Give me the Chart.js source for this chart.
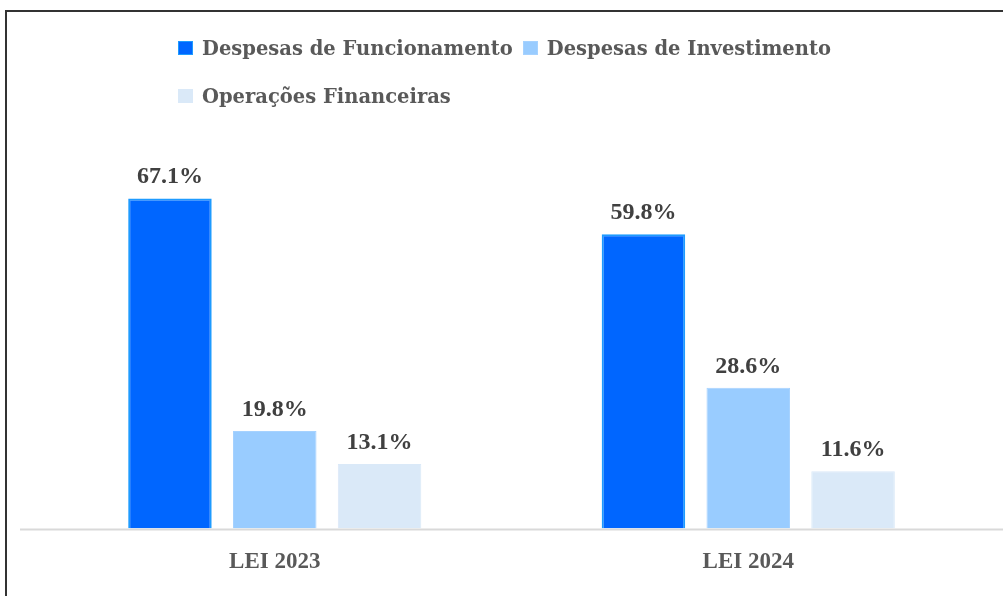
<!DOCTYPE html>
<html>
<head>
<meta charset="utf-8">
<script src="https://cdn.jsdelivr.net/npm/chart.js@4/dist/chart.umd.min.js"></script>
<style>
  html, body { margin: 0; padding: 0; background: #fff; }
  body { width: 1003px; height: 596px; position: relative; overflow: hidden; }
  #frame { position: absolute; left: 5px; top: 10px; width: 1100px; height: 700px;
           border-left: 2px solid #333; border-top: 2px solid #333; box-sizing: border-box; }
  #wrap { position: absolute; left: 0; top: 0; width: 1003px; height: 596px; }
  #legend { position: absolute; left: 178px; top: 35px; width: 680px;
            display: flex; flex-wrap: wrap; row-gap: 22px; column-gap: 10px;
            font-family: "DejaVu Serif", serif; font-weight: bold; font-size: 19.5px; color: #595959; }
  .item { display: flex; align-items: center; height: 26px; white-space: nowrap; }
  .sw { width: 15px; height: 14px; margin-right: 9px; box-sizing: border-box; }
</style>
</head>
<body>
<div id="frame"></div>
<div id="wrap"><canvas id="c" width="1003" height="596"></canvas></div>
<div id="legend"></div>
<script>
const categories = ["LEI 2023", "LEI 2024"];
const seriesNames = ["Despesas de Funcionamento", "Despesas de Investimento", "Operações Financeiras"];
const funcionamento = [67.1, 59.8];
const investimento = [19.8, 28.6];
const operacoes = [13.1, 11.6];
const fillColors = ["#0066ff", "#99ccff", "#dae9f8"];
const borderColors = ["#1e9bff", "#a6d2ff", "#dae9f8"];

const seriesValues = [funcionamento, investimento, operacoes];

// HTML legend
const legendEl = document.getElementById('legend');
seriesNames.forEach((name, i) => {
  const it = document.createElement('div');
  it.className = 'item';
  const sw = document.createElement('span');
  sw.className = 'sw';
  sw.style.background = fillColors[i];
  sw.style.border = '1.5px solid ' + borderColors[i];
  const tx = document.createElement('span');
  tx.textContent = name;
  it.appendChild(sw); it.appendChild(tx);
  legendEl.appendChild(it);
});

const labelPlugin = {
  id: 'valueLabels',
  afterDatasetsDraw(chart) {
    const ctx = chart.ctx;
    ctx.save();
    ctx.font = 'bold 24px "Liberation Serif", serif';
    ctx.fillStyle = '#404040';
    ctx.textAlign = 'center';
    ctx.textBaseline = 'alphabetic';
    chart.data.datasets.forEach((ds, di) => {
      const meta = chart.getDatasetMeta(di);
      meta.data.forEach((el, i) => {
        ctx.fillText(ds.data[i].toFixed(1) + '%', el.x, el.y - 15);
      });
    });
    ctx.restore();
  }
};

const axisLinePlugin = {
  id: 'axisLine',
  afterDatasetsDraw(chart) {
    const ctx = chart.ctx;
    const y = chart.scales.y.getPixelForValue(0);
    ctx.save();
    ctx.strokeStyle = '#d9d9d9';
    ctx.lineWidth = 2;
    ctx.beginPath();
    ctx.moveTo(20, y + 1);
    ctx.lineTo(chart.width, y + 1);
    ctx.stroke();
    ctx.restore();
  }
};

new Chart(document.getElementById('c'), {
  type: 'bar',
  data: {
    labels: categories,
    datasets: seriesNames.map((name, i) => ({
      label: name,
      data: seriesValues[i],
      backgroundColor: fillColors[i],
      borderColor: borderColors[i],
      borderWidth: i === 0 ? 2 : 1,
      categoryPercentage: 0.664,
      barPercentage: 0.797
    }))
  },
  options: {
    responsive: false,
    animation: false,
    layout: { padding: { left: 38, right: 18, top: 135, bottom: 0 } },
    plugins: { legend: { display: false }, tooltip: { enabled: false } },
    scales: {
      y: { display: false, min: 0, max: 80 },
      x: {
        grid: { display: false, drawTicks: false },
        border: { display: false },
        ticks: {
          padding: 20,
          color: '#595959',
          font: { family: '"Liberation Serif", serif', weight: 'bold', size: 23 }
        }
      }
    }
  },
  plugins: [labelPlugin, axisLinePlugin]
});
</script>
</body>
</html>
